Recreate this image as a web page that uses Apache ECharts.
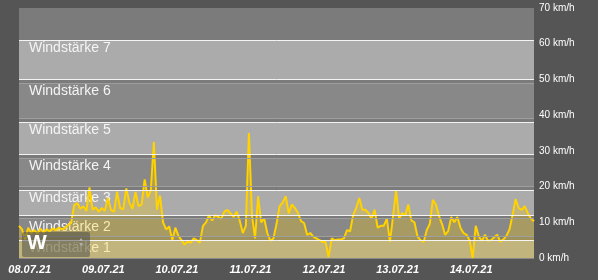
<!DOCTYPE html>
<html><head><meta charset="utf-8">
<script src="https://cdn.jsdelivr.net/npm/echarts@6/dist/echarts.min.js"></script>
<style>html,body{margin:0;padding:0;background:#555555;}#c{width:598px;height:280px;}</style>
</head><body><div id="c"></div>
<script>
const legendLabel = 'W';
const unit = 'km/h';
const startTime = '2021-07-07T20:30:00';
const stepHours = 1;
const speeds = [
  9.0, 8.0, 5.2, 8.5, 7.0, 7.8, 6.8, 8.2, 7.2, 8.0, 7.5, 8.3, 7.8, 8.5, 8.0, 8.4, 9.2, 9.8,
  14.8, 15.4, 13.8, 14.5, 13.2, 19.8, 13.5, 14.2, 13.0, 14.0, 13.2, 16.8, 13.5, 13.0, 18.6, 14.0,
  13.6, 19.5, 15.5, 13.8, 18.5, 14.5, 15.0, 22.0, 17.0, 19.0, 32.5, 13.5, 17.5, 10.0, 8.0, 8.8,
  5.0, 8.5, 6.2, 5.0, 3.8, 4.6, 4.3, 5.5, 5.0, 4.3, 9.0, 10.0, 12.0, 10.5, 12.0, 11.5, 11.0, 13.0,
  13.5, 12.5, 11.5, 13.0, 10.5, 7.0, 9.0, 35.0, 12.0, 5.5, 17.3, 10.0, 11.0, 7.0, 4.8, 5.5, 9.5,
  14.5, 15.5, 17.3, 12.5, 15.0, 14.0, 12.6, 10.3, 9.8, 6.5, 7.0, 6.0, 5.5, 5.0, 4.5, 4.5, 0.3,
  5.5, 5.0, 5.2, 5.2, 5.5, 7.8, 7.5, 12.0, 14.0, 16.8, 13.5, 13.5, 12.6, 11.0, 13.5, 8.5, 9.0,
  9.0, 11.0, 4.5, 11.5, 18.9, 11.0, 12.6, 12.0, 15.0, 10.5, 10.0, 6.0, 5.0, 4.5, 7.8, 9.5, 16.3,
  15.0, 11.8, 9.5, 6.5, 7.5, 11.5, 10.0, 11.5, 8.5, 7.0, 6.5, 5.0, 0.0, 9.0, 6.0, 4.8, 6.5,
  4.8, 5.0, 5.8, 6.5, 4.6, 5.2, 6.2, 8.0, 12.0, 16.5, 14.0, 13.5, 14.5, 12.5, 11.0, 10.3
];
const bandNames = ['Windstärke 1','Windstärke 2','Windstärke 3','Windstärke 4','Windstärke 5','Windstärke 6','Windstärke 7'];
const bandFrom = [0, 6, 12, 20, 29, 39, 50];
const bandTo   = [5, 11, 19, 28, 38, 49, 61];
const yMin = 0, yMax = 70, yStep = 10;

const HOUR = 3600000;
const t0 = new Date(startTime).getTime();
const data = speeds.map((v, i) => [t0 + i * stepHours * HOUR, v]);
const tEnd = data[data.length - 1][0];

function pad(n){ return (n < 10 ? '0' : '') + n; }
function fmtDate(v){ const d = new Date(v); return pad(d.getDate()) + '.' + pad(d.getMonth() + 1) + '.' + String(d.getFullYear()).slice(2); }

const FONT = '"Liberation Sans", Arial, sans-serif';
const areas = [[{ yAxis: yMin, itemStyle: { color: '#7b7b7b' }, label: { show: false } }, { yAxis: yMax }]];
const edges = [];
bandNames.forEach((name, i) => {
  const light = i % 2 === 0;
  areas.push([{
    name: name,
    yAxis: bandTo[i],
    itemStyle: { color: light ? '#ababab' : '#888888', borderWidth: 0 }
  }, { yAxis: bandFrom[i] }]);
  const lc = light ? '#f4f4f4' : '#9e9e9e';
  edges.push({ yAxis: bandTo[i], lineStyle: { color: lc } });
  if (bandFrom[i] > yMin) edges.push({ yAxis: bandFrom[i], lineStyle: { color: lc } });
});

const chart = echarts.init(document.getElementById('c'), null, { renderer: 'canvas' });
chart.setOption({
  backgroundColor: '#555555',
  animation: false,
  grid: { left: 19, right: 64, top: 8, bottom: 22, show: false },
  xAxis: {
    type: 'time', min: t0, max: tEnd,
    minInterval: 24 * HOUR, maxInterval: 24 * HOUR,
    axisLine: { show: false }, axisTick: { show: false },
    splitLine: { show: true, showMinLine: false, showMaxLine: false, lineStyle: { color: 'rgba(255,255,255,0.6)', width: 1 } },
    axisLabel: {
      color: '#ffffff', fontSize: 11, fontWeight: 'bold', fontStyle: 'italic', fontFamily: FONT,
      margin: 6, formatter: fmtDate, showMinLabel: false, showMaxLabel: false
    }
  },
  yAxis: {
    type: 'value', position: 'right', min: yMin, max: yMax, interval: yStep,
    axisLine: { show: false }, axisTick: { show: false },
    splitLine: { show: true, lineStyle: { color: 'rgba(255,255,255,0.3)', width: 1 } },
    axisLabel: { color: '#ffffff', fontSize: 10, fontFamily: FONT, margin: 5, formatter: '{value} ' + unit }
  },
  series: [
    {
      type: 'line', name: 'bands', data: data, z: -1, silent: true, showSymbol: false,
      lineStyle: { width: 0, opacity: 0 },
      markArea: {
        silent: true,
        label: { show: true, position: [10, 1], color: '#f4f4f4', fontSize: 14, fontFamily: FONT },
        data: areas
      },
      markLine: {
        silent: true, symbol: 'none', label: { show: false },
        lineStyle: { type: 'solid', width: 1 },
        data: edges
      }
    },
    {
      type: 'line', name: legendLabel, data: data, z: 3, showSymbol: false,
      color: '#ffd200',
      lineStyle: { color: '#ffd200', width: 2 },
      areaStyle: { color: 'rgba(255,210,0,0.38)' }
    }
  ],
  graphic: [
    { type: 'rect', z: 100, shape: { x: 22, y: 232, width: 68, height: 25, r: 2 }, style: { fill: 'rgba(70,70,70,0.5)' } },
    { type: 'text', z: 101, x: 27, y: 233, style: { text: legendLabel, fill: '#ffffff', font: 'bold 21px ' + FONT } },
    { type: 'polygon', z: 101, shape: { points: [[79, 241], [83, 241], [81, 238]] }, style: { fill: '#b0b0b0' } },
    { type: 'polygon', z: 101, shape: { points: [[79, 243], [83, 243], [81, 246]] }, style: { fill: '#b0b0b0' } }
  ]
});
</script></body></html>
